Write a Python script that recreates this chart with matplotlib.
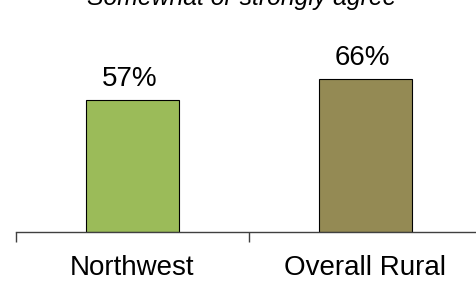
import matplotlib.pyplot as plt
import numpy as np

plt.rcParams['font.family'] = ['Liberation Sans', 'DejaVu Sans']

# Chart data
categories = ["Northwest", "Overall Rural"]
values = [57, 66]
colors = ["#9BBB59", "#948A54"]
title = "Somewhat or strongly agree"

fig = plt.figure(figsize=(4.77, 2.81), dpi=100)
ax = fig.add_axes([15.7 / 477, 48.7 / 281, 466.2 / 477, 185.7 / 281])

x = np.arange(len(categories))
bars = ax.bar(x, values, width=0.4, color=colors, edgecolor="black", linewidth=0.8)

# Value labels above bars
for b, v in zip(bars, values):
    ax.annotate(f"{v}%", (b.get_x() + b.get_width() / 2, b.get_height()),
                xytext=(-2, 5.5), textcoords="offset points",
                ha="center", va="bottom", fontsize=20)

ax.set_xlim(-0.5, len(categories) - 0.5)
ax.set_ylim(0, 80)

# Category labels without tick marks, boundary ticks as minor ticks
ax.set_xticks(x)
ax.set_xticklabels(categories, fontsize=20)
ax.tick_params(axis="x", which="major", length=0, pad=16)
ax.set_xticks(np.arange(-0.5, len(categories)), minor=True)
ax.tick_params(axis="x", which="minor", length=7, width=1, color="#404040", direction="out")
ax.set_yticks([])

for s in ["top", "right", "left"]:
    ax.spines[s].set_visible(False)
ax.spines["bottom"].set_color("#404040")
ax.spines["bottom"].set_linewidth(1)

# Title, cut off by the top edge as in the original
fig.text(241.5 / 477, 1 - 5 / 281, title, ha="center", va="baseline",
         fontsize=17.8, style="italic")

fig.savefig("out.png", dpi=100)
